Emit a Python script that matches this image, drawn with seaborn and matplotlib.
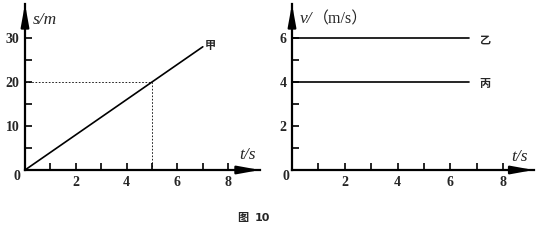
import matplotlib
matplotlib.use("Agg")
import matplotlib.pyplot as plt
import seaborn as sns
import pandas as pd

sns.set_style("white")
plt.rcParams['font.family'] = ['Liberation Serif', 'Noto Sans CJK SC']

# Data
t_jia = [0, 7]
s_jia = [0, 28]
t_v = [0, 6.7]
v_yi = [6, 6]
v_bing = [4, 4]
guide_t = 5
guide_s = 20
left_xticks = [2, 4, 6, 8]
left_yticks = [10, 20, 30]
right_xticks = [2, 4, 6, 8]
right_yticks = [2, 4, 6]

W, H = 540, 244
fig = plt.figure(figsize=(5.4, 2.44), dpi=100)

def px_axes(x0, y0_top, w, h):
    return fig.add_axes([x0 / W, (H - y0_top) / H, w / W, h / H])

axL = px_axes(25, 170, 9.25 * 25.4, 166)
axL.set_xlim(0, 9.25)
axL.set_ylim(0, 166 / 4.4)
axR = px_axes(292, 170, 9.15 * 26.4, 166)
axR.set_xlim(0, 9.15)
axR.set_ylim(0, 166 / 22.0)

arrow = "-|>,head_length=1.1,head_width=0.2"
for ax in (axL, axR):
    for s in ("top", "right"):
        ax.spines[s].set_visible(False)
    for s in ("left", "bottom"):
        ax.spines[s].set_linewidth(1.6)
        ax.spines[s].set_color("black")
    ax.annotate("", xy=(1, 0), xytext=(0.9, 0), xycoords=ax.get_yaxis_transform(),
                textcoords=ax.get_yaxis_transform(),
                arrowprops=dict(arrowstyle=arrow, color="black", lw=1.6,
                                mutation_scale=12, shrinkA=0, shrinkB=0),
                annotation_clip=False)
    ax.annotate("", xy=(0, 1), xytext=(0, 0.85), xycoords=ax.get_xaxis_transform(),
                textcoords=ax.get_xaxis_transform(),
                arrowprops=dict(arrowstyle=arrow, color="black", lw=1.6,
                                mutation_scale=12, shrinkA=0, shrinkB=0),
                annotation_clip=False)
    ax.tick_params(which="both", direction="in", length=5, width=1.2, color="black",
                   labelsize=10, pad=4, left=True, bottom=True)
    ax.patch.set_alpha(0)

df_jia = pd.DataFrame({"t": t_jia, "s": s_jia})
sns.lineplot(data=df_jia, x="t", y="s", ax=axL, color="black", linewidth=1.2)
axL.plot([0, guide_t], [guide_s, guide_s], linestyle=(0, (2, 2)), color="black", linewidth=0.6)
axL.plot([guide_t, guide_t], [0, guide_s], linestyle=(0, (2, 2)), color="black", linewidth=0.6)
axL.set_xticks(range(1, 9))
axL.set_xticklabels([str(i) if i in left_xticks else "" for i in range(1, 9)])
axL.set_yticks(range(5, 31, 5))
axL.set_yticklabels([str(i) if i in left_yticks else "" for i in range(5, 31, 5)])

df_v = pd.DataFrame({"t": t_v * 2, "v": v_yi + v_bing, "k": ["乙", "乙", "丙", "丙"]})
sns.lineplot(data=df_v, x="t", y="v", units="k", estimator=None, ax=axR, color="black",
             linewidth=1.2)
axR.set_xticks(range(1, 9))
axR.set_xticklabels([str(i) if i in right_xticks else "" for i in range(1, 9)])
axR.set_yticks(range(1, 7))
axR.set_yticklabels([str(i) if i in right_yticks else "" for i in range(1, 7)])

for ax in (axL, axR):
    ax.set_xlabel("")
    ax.set_ylabel("")
    for lab in ax.get_xticklabels() + ax.get_yticklabels():
        lab.set_fontweight("bold")
    if ax.get_legend():
        ax.get_legend().remove()

# origin labels
fig.text(17 / W, 1 - 176 / H, "0", fontsize=10, fontweight="bold", ha="center", va="center")
fig.text(286 / W, 1 - 176 / H, "0", fontsize=10, fontweight="bold", ha="center", va="center")

# axis labels
fig.text(33 / W, 1 - 20 / H, "s/m", fontsize=12.5, style="italic", ha="left", va="center")
fig.text(239 / W, 1 - 155 / H, "t/s", fontsize=12.5, style="italic", ha="left", va="center")
fig.text(300 / W, 1 - 19 / H, "v/", fontsize=12.5, style="italic", ha="left", va="center")
fig.text(313 / W, 1 - 19 / H, "（m/s）", fontsize=11.5, ha="left", va="center")
fig.text(511 / W, 1 - 157 / H, "t/s", fontsize=12.5, style="italic", ha="left", va="center")

# series labels
fig.text(205 / W, 1 - 45 / H, "甲", fontsize=8, fontweight="bold", ha="left", va="center",
         family="Noto Sans CJK SC")
fig.text(479 / W, 1 - 40 / H, "乙", fontsize=8, fontweight="bold", ha="left", va="center",
         family="Noto Sans CJK SC")
fig.text(479 / W, 1 - 83 / H, "丙", fontsize=8, fontweight="bold", ha="left", va="center",
         family="Noto Sans CJK SC")

# caption
fig.text(243 / W, 1 - 218 / H, "图", fontsize=8, fontweight="bold", ha="center", va="center",
         family="Noto Sans CJK SC")
fig.text(262 / W, 1 - 218 / H, "10", fontsize=8, fontweight="bold", ha="center", va="center",
         family="DejaVu Sans")

fig.savefig("out.png", dpi=100)
